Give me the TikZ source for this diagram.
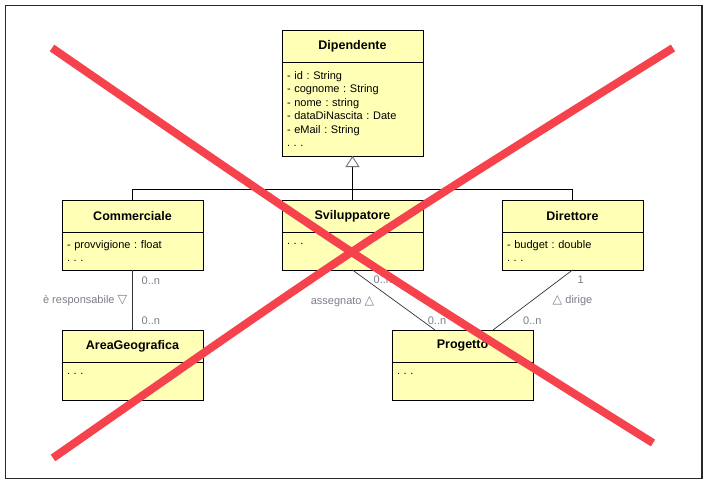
\documentclass[tikz,border=0pt]{standalone}
\usepackage{fontspec}
\setmainfont{Liberation Sans}
\newfontfamily\symfont{DejaVu Sans}
\usepackage{xcolor}
\usepackage{tikz}
\usetikzlibrary{positioning,arrows.meta}
\frenchspacing

\definecolor{classyellow}{RGB}{255,255,181}
\definecolor{labelgray}{RGB}{125,125,138}
\definecolor{crossred}{RGB}{245,66,76}
\definecolor{framegray}{RGB}{40,40,40}

\begin{document}
\begin{tikzpicture}[
    x=1pt, y=1pt,
    classhead/.style={rectangle, draw=black, fill=classyellow, line width=0.9pt, outer sep=0pt,
                      minimum width=141pt, minimum height=32pt,
                      font=\fontsize{12.5}{15}\selectfont\bfseries},
    classbody/.style={rectangle, draw=black, fill=classyellow, line width=0.9pt, outer sep=0pt,
                      minimum height=38pt, text width=131pt, inner xsep=5pt, align=left,
                      font=\fontsize{11}{13.4}\selectfont},
    mult/.style={inner sep=1pt, text=labelgray, font=\fontsize{11}{13}\selectfont},
    assoc/.style={draw=black!80, line width=0.7pt},
    generalization/.style={draw=black, line width=0.9pt,
                           -{Triangle[open, length=11pt, width=14pt, color=black!55]}},
    cross/.style={draw=crossred, line width=8pt},
    node distance=0pt
]

\useasboundingbox (0,0) rectangle (709,-484);
\draw[framegray, line width=1.5pt] (5.5,-5.5) rectangle (702,-478.5);

% Superclass
\node[classhead] (dipendente) at (352.5,-46) {Dipendente};
\node[classbody, minimum height=94pt, below=0pt of dipendente] (dipendenteattr)
    {- id : String\\- cognome : String\\- nome : string\\- dataDiNascita : Date\\- eMail : String\\. . .};

% Subclasses
\node[classhead, below=44pt of dipendenteattr] (sviluppatore) {Sviluppatore};
\node[classbody, below=0pt of sviluppatore] (sviluppatoreattr) {. . .\\~};
\node[classhead, left=79pt of sviluppatore] (commerciale) {Commerciale};
\node[classbody, below=0pt of commerciale] (commercialeattr) {- provvigione : float\\. . .};
\node[classhead, right=79pt of sviluppatore] (direttore) {Direttore};
\node[classbody, below=0pt of direttore] (direttoreattr) {- budget : double\\. . .};

% Associated classes
\node[classhead, below=60pt of commercialeattr] (areageografica) {AreaGeografica};
\node[classbody, below=0pt of areageografica] (areageograficaattr) {. . .\\~};
\node[classhead, right=189pt of areageografica] (progetto) {Progetto};
\node[classbody, below=0pt of progetto] (progettoattr) {. . .\\~};
\coordinate (assegnatoend) at ([xshift=-27.5pt]progetto.north);
\coordinate (dirigeend) at ([xshift=30.5pt]progetto.north);

% Generalization
\draw[generalization] (sviluppatore.north) -- (dipendenteattr.south);
\draw[line width=0.9pt] (commerciale.north) -- ++(0,11) -| (direttore.north);

% Associations
\draw[assoc] (commercialeattr.south) -- (areageografica.north);
\draw[assoc] (sviluppatoreattr.south) -- (assegnatoend);
\draw[assoc] (direttoreattr.south) -- (dirigeend);

% Roles and multiplicities
\node[mult, below right=6pt and 8pt of commercialeattr.south] (mcommerciale) {0..n};
\node[mult, above right=4pt and 8pt of areageografica.north] (marea) {0..n};
\node[mult, below left=24pt and 4pt of commercialeattr.south] (responsabile) {è responsabile {\symfont\fontsize{12.5}{13}\selectfont ▽}};
\node[mult, below right=5pt and 20pt of sviluppatoreattr.south] (msviluppatore) {0..n};
\node[mult, below=25pt of sviluppatoreattr.south, xshift=-10pt] (assegnato) {assegnato {\symfont\fontsize{12.5}{13}\selectfont △}};
\node[mult, above=4pt of assegnatoend, xshift=2pt] (mprogetto1) {0..n};
\node[mult, below right=5pt and 4pt of direttoreattr.south] (mdirettore) {1};
\node[mult, below=24pt of direttoreattr.south] (dirige) {{\symfont\fontsize{12.5}{13}\selectfont △} dirige};
\node[mult, above right=4pt and 29pt of dirigeend] (mprogetto2) {0..n};

% Red cross
\draw[cross] (52,-48) .. controls (348,-252) .. (653,-443);
\draw[cross] (673,-48) .. controls (358,-245) .. (53,-458);

\end{tikzpicture}
\end{document}
